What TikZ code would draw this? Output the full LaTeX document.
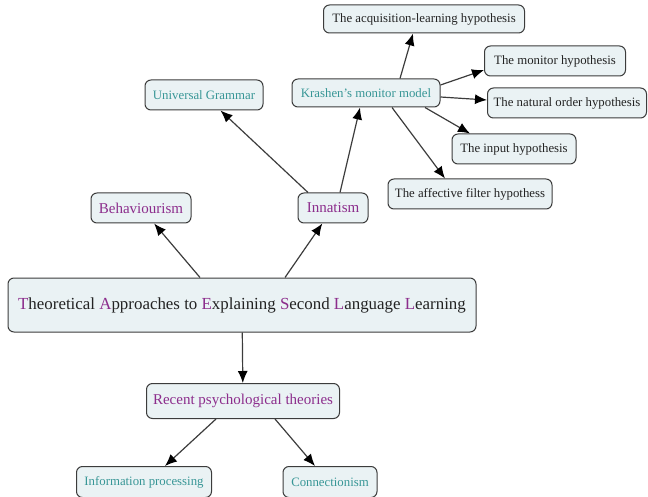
\documentclass[tikz,border=0pt]{standalone}
\usepackage{fontspec}
\setmainfont{Liberation Serif}
\usetikzlibrary{arrows.meta}
\definecolor{mapfill}{RGB}{234,242,244}
\definecolor{mapedge}{RGB}{60,60,60}
\definecolor{mappurple}{RGB}{140,45,140}
\definecolor{mapteal}{RGB}{55,150,150}
\definecolor{maptext}{RGB}{35,35,35}

\begin{document}
\begin{tikzpicture}[
  x=1pt, y=-1pt,
  concept/.style={rectangle, rounded corners=6pt, draw=mapedge, line width=1pt, fill=mapfill, inner sep=0pt, minimum height=30pt, text=maptext, font=\fontsize{12.8}{14}\selectfont},
  purple/.style={text=mappurple, font=\fontsize{15}{17}\selectfont},
  teal/.style={text=mapteal},
  arrow/.style={-{Latex[length=12pt,width=10pt,black]}, line width=1.2pt, color=mapedge}
]
\useasboundingbox (0,0) rectangle (648,497);

% Central topic
\node[concept, minimum width=468pt, minimum height=54pt, font=\fontsize{16.9}{19}\selectfont] (main) at (242,305)
  {\textcolor{mappurple}{T}heoretical \textcolor{mappurple}{A}pproaches to \textcolor{mappurple}{E}xplaining \textcolor{mappurple}{S}econd \textcolor{mappurple}{L}anguage \textcolor{mappurple}{L}earning};

% Three families of theories
\node[concept, purple, minimum width=100pt] (behav) at (141,208) {Behaviourism};
\node[concept, purple, minimum width=70pt] (innat) at (333,208) {Innatism};
\node[concept, purple, minimum width=193pt, minimum height=35pt] (recent) at (243,401) {Recent psychological theories};

% Innatism branch
\node[concept, teal, minimum width=118pt] (ug) at (204,95) {Universal Grammar};
\node[concept, teal, minimum width=148pt, minimum height=28pt] (krash) at (366,93) {Krashen's monitor model};

% Krashen's five hypotheses
\node[concept, minimum width=201pt, minimum height=28pt] (h1) at (424,19) {The acquisition-learning hypothesis};
\node[concept, minimum width=141pt] (h2) at (555,61) {The monitor hypothesis};
\node[concept, minimum width=159pt] (h3) at (567,103) {The natural order hypothesis};
\node[concept, minimum width=124pt] (h4) at (514,149) {The input hypothesis};
\node[concept, minimum width=164pt] (h5) at (470,194) {The affective filter hypothess};

% Recent psychological theories branch
\node[concept, teal, minimum width=135pt, minimum height=31pt] (info) at (144,482) {Information processing};
\node[concept, teal, minimum width=94pt, minimum height=31pt] (conn) at (330,482) {Connectionism};

% Arrows from the central topic
\draw[arrow] ([xshift=-42pt]main.north) -- (behav);
\draw[arrow] ([xshift=43pt]main.north) -- (innat);
\draw[arrow] (main) -- (recent);

% Innatism
\draw[arrow] ([xshift=-25pt]innat.north) -- (ug);
\draw[arrow] ([xshift=7pt]innat.north) -- ([xshift=-6pt]krash.south);

% Krashen
\draw[arrow] ([xshift=34pt]krash.north) -- ([xshift=-11pt]h1.south);
\draw[arrow] ([yshift=8pt]krash.east) -- ([yshift=-9pt]h2.west);
\draw[arrow] ([yshift=-4pt]krash.east) -- ([yshift=3pt]h3.west);
\draw[arrow] ([xshift=59pt]krash.south) -- ([xshift=-44pt]h4.north);
\draw[arrow] ([xshift=26pt]krash.south) -- ([xshift=-25pt]h5.north);

% Recent psychological theories
\draw[arrow] ([xshift=-27pt]recent.south) -- ([xshift=21pt]info.north);
\draw[arrow] ([xshift=32pt]recent.south) -- ([xshift=-15pt]conn.north);

\end{tikzpicture}
\end{document}
